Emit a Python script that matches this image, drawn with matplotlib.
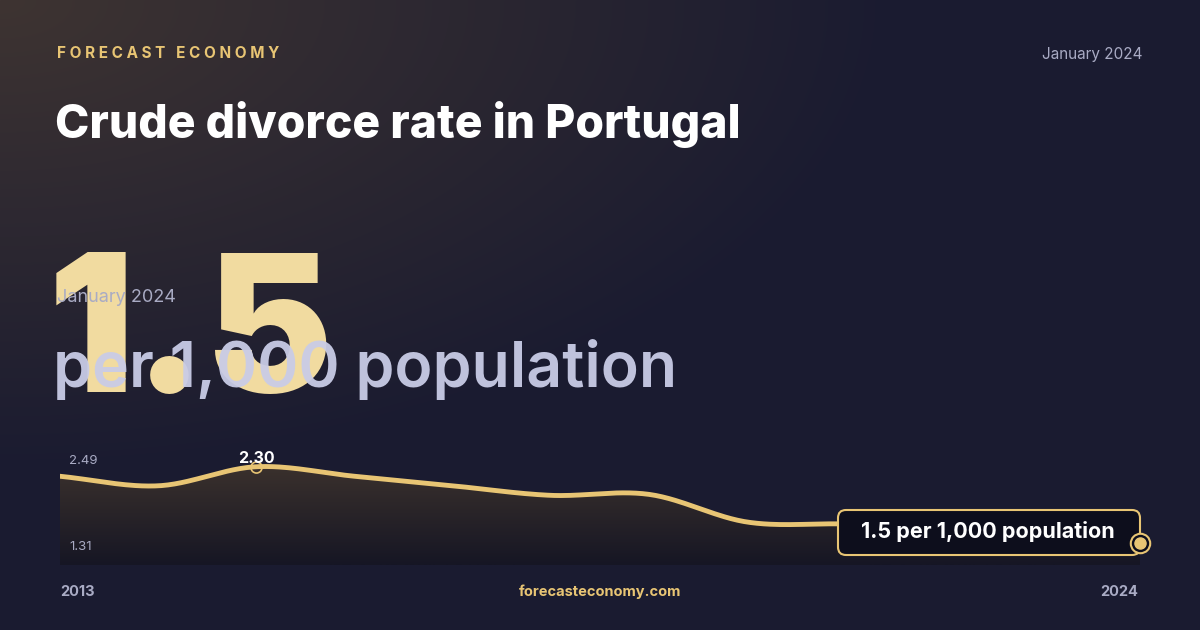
import numpy as np
import matplotlib
matplotlib.use("Agg")
import matplotlib.pyplot as plt
from matplotlib.patches import FancyBboxPatch

years = [2013, 2014, 2015, 2016, 2017, 2018, 2019, 2020, 2021, 2022, 2023, 2024]
values = [2.20, 2.10, 2.30, 2.20, 2.10, 2.00, 2.01, 1.72, 1.70, 1.66, 1.60, 1.50]
y_min_label, y_max_label = 1.31, 2.49

W, H = 1200, 630
fig = plt.figure(figsize=(W/100, H/100), dpi=100)
bg = fig.add_axes([0, 0, 1, 1]); bg.set_xlim(0, W); bg.set_ylim(H, 0); bg.axis('off')
yy, xx = np.mgrid[0:H, 0:W]
d = np.sqrt((xx/ W)**2 + (yy/H)**2)
base = np.array([26, 27, 48]) / 255
glow = np.array([62, 52, 50]) / 255
t = np.clip(1 - d / 0.75, 0, 1)[..., None]
img = base * (1 - t) + glow * t
bg.imshow(img, extent=[0, W, H, 0], zorder=0)

gold = '#e8c574'
F = 'Inter'
bg.text(57, 53, ' '.join('FORECAST') + '   ' + ' '.join('ECONOMY'), color=gold, fontsize=11, fontweight='bold', family=F, va='center')
bg.text(1143, 54, 'January 2024', color='#a9abc4', fontsize=11, family=F, va='center', ha='right')
bg.text(55, 124, 'Crude divorce rate in Portugal', color='white', fontsize=33.3, fontweight='heavy', family=F, va='center')
bg.text(48, 342, '1.5', color='#f1dba0', fontsize=138, fontweight='black', family=F, va='center', zorder=2)
bg.text(57, 297, 'January 2024', color='#a9abc4', fontsize=13, family=F, va='center', zorder=3)
bg.text(53, 370, 'per 1,000 population', color='#c9cce6', fontsize=45, fontweight='semibold', family=F, va='center', zorder=3, alpha=0.95)
bg.text(60, 592, '2013', color='#a9abc4', fontsize=10.5, fontweight='bold', family=F, va='center')
bg.text(1138, 592, '2024', color='#a9abc4', fontsize=10.5, fontweight='bold', family=F, va='center', ha='right')
bg.text(600, 592, 'forecasteconomy.com', color=gold, fontsize=10.5, fontweight='bold', family=F, va='center', ha='center')

x0, x1, ytop, ybot = 60, 1140, 440, 565
ax = fig.add_axes([x0/W, 1-ybot/H, (x1-x0)/W, (ybot-ytop)/H])
ax.axis('off')
ax.set_xlim(years[0], years[-1])
lo = 1.31 - 0.04
ax.set_ylim(lo, 2.58)
px = np.array(years, float); py = np.array(values)
P = np.vstack([[2*px[0]-px[1], 2*py[0]-py[1]], np.c_[px, py], [2*px[-1]-px[-2], 2*py[-1]-py[-2]]])
sx, sy = [], []
for i in range(1, len(P)-2):
    p0, p1, p2, p3 = P[i-1], P[i], P[i+1], P[i+2]
    for s in np.linspace(0, 1, 30, endpoint=False):
        pt = 0.5*((2*p1) + (-p0+p2)*s + (2*p0-5*p1+4*p2-p3)*s**2 + (-p0+3*p1-3*p2+p3)*s**3)
        sx.append(pt[0]); sy.append(pt[1])
sx.append(px[-1]); sy.append(py[-1])
sx, sy = np.array(sx), np.array(sy)
grad = np.linspace(0, 1, 100)[:, None]
cols = np.array([60, 50, 45]) / 255 * grad[..., None] + np.array([22, 22, 36]) / 255 * (1 - grad[..., None])
im = ax.imshow(np.repeat(cols, 2, axis=1), extent=[years[0], years[-1], lo, 2.35], origin='lower', aspect='auto', zorder=1)
poly = ax.fill_between(sx, sy, lo, color='none')
im.set_clip_path(poly.get_paths()[0], transform=ax.transData)
ax.plot(sx, sy, color=gold, lw=3.5, zorder=3, solid_capstyle='round')
i_max = int(np.argmax(values))
ax.plot(years[i_max], values[i_max], 'o', ms=8, mfc='none', mec=gold, mew=1.2, zorder=4)
ax.text(years[i_max], values[i_max]+0.01, f'{values[i_max]:.2f}', color='white', fontsize=11.5, fontweight='bold', family=F, ha='center', va='bottom', zorder=5)

ov = fig.add_axes([0, 0, 1, 1]); ov.set_xlim(0, W); ov.set_ylim(H, 0); ov.axis('off'); ov.patch.set_alpha(0)
ov.text(69, 461, f'{y_max_label:.2f}', color='#a9abc4', fontsize=9.5, family=F, va='center')
ov.text(69, 547, f'{y_min_label:.2f}', color='#a9abc4', fontsize=9.5, family=F, va='center')
box = FancyBboxPatch((838, 510), 302, 45, boxstyle='round,pad=0,rounding_size=8', fc='#0d0e1c', ec=gold, lw=1.5, zorder=5)
ov.add_patch(box)
ov.text(988, 532, f'{values[-1]:.1f} per 1,000 population', color='white', fontsize=15.5, fontweight='bold', family=F, ha='center', va='center', zorder=6)
ov.plot(1140, 543, 'o', ms=14, mfc='#0d0e1c', mec=gold, mew=1.5, zorder=7)
ov.plot(1140, 543, 'o', ms=8, color=gold, zorder=8)

fig.savefig('out.png', dpi=100)
